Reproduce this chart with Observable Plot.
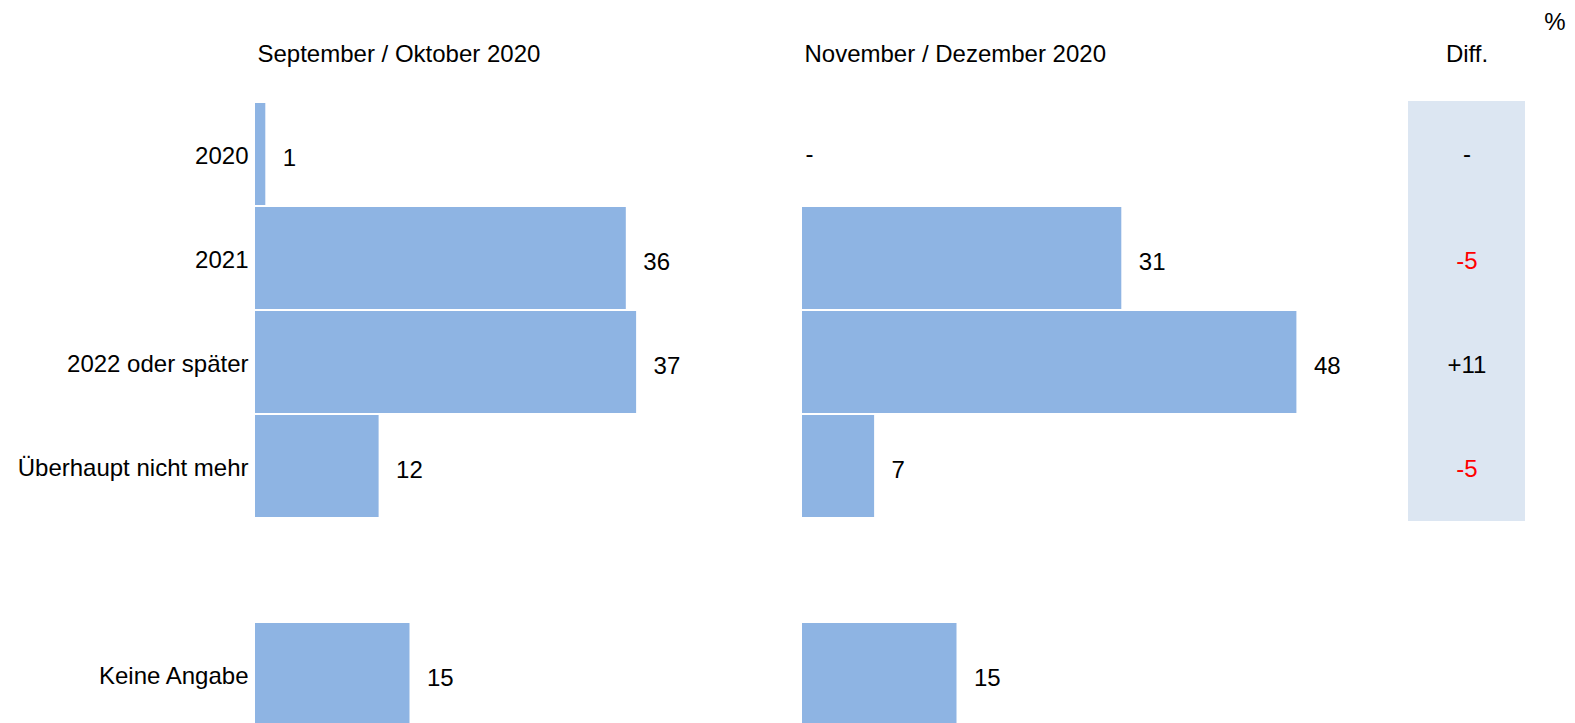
<!DOCTYPE html>
<html>
<head>
<meta charset="utf-8">
<script src="https://cdn.jsdelivr.net/npm/d3@7"></script>
<script src="https://cdn.jsdelivr.net/npm/@observablehq/plot@0.6"></script>
<style>
  html, body { margin: 0; padding: 0; overflow: hidden; background: white; }
  #wrap { position: relative; width: 1575px; height: 723px; overflow: hidden; }
  #wrap svg { position: absolute; left: 0; top: 0; }
</style>
</head>
<body>
<div id="wrap"></div>
<script>
// ---- data ----
const categories = ["2020", "2021", "2022 oder später", "Überhaupt nicht mehr", " ", "Keine Angabe"];
const periods = ["September / Oktober 2020", "November / Dezember 2020"];
const sepOkt = [1, 36, 37, 12, null, 15];
const novDez = [null, 31, 48, 7, null, 15];
const diffCategories = ["2020", "2021", "2022 oder später", "Überhaupt nicht mehr"];
const diffValues = [null, -5, 11, -5];
const unitLabel = "%";
const diffTitle = "Diff.";

// ---- build tables ----
const series = [sepOkt, novDez];
const rows = [];
periods.forEach((p, j) => {
  categories.forEach((c, i) => {
    if (c.trim() === "") return;
    rows.push({period: p, category: c, value: series[j][i]});
  });
});
const diffRows = diffCategories.map((c, i) => ({category: c, value: diffValues[i]}));

const FONT = "'Liberation Sans', Arial, Helvetica, sans-serif";
const BAR = "#8EB4E3";
const yScale = {domain: categories, range: [97.9, 729.2], padding: 0.02};

const main = Plot.plot({
  width: 1575,
  height: 723,
  marginLeft: 254.7,
  marginRight: 258,
  marginTop: 0,
  marginBottom: 0,
  style: {fontFamily: FONT, fontSize: "24px", color: "black", background: "white"},
  x: {domain: [0, 50], axis: null},
  y: {...yScale, axis: null},
  fx: {domain: periods, paddingInner: 0.059, paddingOuter: 0, axis: null},
  marks: [
    Plot.axisY({tickSize: 0, tickPadding: 7, dy: 2, fontSize: 24, label: null}),
    Plot.barX(rows.filter(d => d.value != null), {
      fx: "period", y: "category", x: "value", fill: BAR
    }),
    Plot.text(rows.filter(d => d.value != null), {
      fx: "period", y: "category", x: "value", text: d => String(d.value),
      textAnchor: "start", dx: 17, dy: 4, fontSize: 24, fill: "black"
    }),
    Plot.text(rows.filter(d => d.value == null), {
      fx: "period", y: "category", x: () => 0, text: () => "-",
      textAnchor: "start", dx: 3, dy: 0, fontSize: 24, fill: "black"
    }),
    Plot.text(periods, {
      fx: d => d, text: d => d, frameAnchor: "top-left",
      textAnchor: "start", lineAnchor: "bottom", dx: 2, dy: 61, fontSize: 24, fill: "black"
    })
  ]
});

const diff = Plot.plot({
  width: 1575,
  height: 723,
  marginLeft: 0,
  marginRight: 10,
  marginTop: 0,
  marginBottom: 0,
  style: {fontFamily: FONT, fontSize: "24px", color: "black", background: "transparent"},
  x: {domain: [0, 1], range: [1408, 1525], axis: null},
  y: {...yScale, axis: null},
  color: {type: "identity"},
  marks: [
    Plot.barX(diffRows, {
      y: "category", x1: () => 0, x2: () => 1, fill: "#DCE6F2",
      insetTop: -2, insetBottom: -4
    }),
    Plot.text(diffRows.filter(d => d.value != null), {
      y: "category", x: () => 0.5,
      text: d => d.value > 0 ? "+" + d.value : String(d.value),
      fill: d => d.value < 0 ? "#FF0000" : "#000000",
      textAnchor: "middle", dy: 3, fontSize: 24
    }),
    Plot.text(diffRows.filter(d => d.value == null), {
      y: "category", x: () => 0.5, text: () => "-", fill: () => "#000000",
      textAnchor: "middle", dy: 0, fontSize: 24
    }),
    Plot.text([diffTitle], {
      x: () => 0.5, text: d => d, frameAnchor: "top",
      textAnchor: "middle", lineAnchor: "bottom", dy: 61, fontSize: 24, fill: "black"
    }),
    Plot.text([unitLabel], {
      text: d => d, frameAnchor: "top-right",
      textAnchor: "end", lineAnchor: "bottom", dy: 29, fontSize: 24, fill: "black"
    })
  ]
});

const wrap = document.getElementById("wrap");
wrap.appendChild(main);
wrap.appendChild(diff);
</script>
</body>
</html>
